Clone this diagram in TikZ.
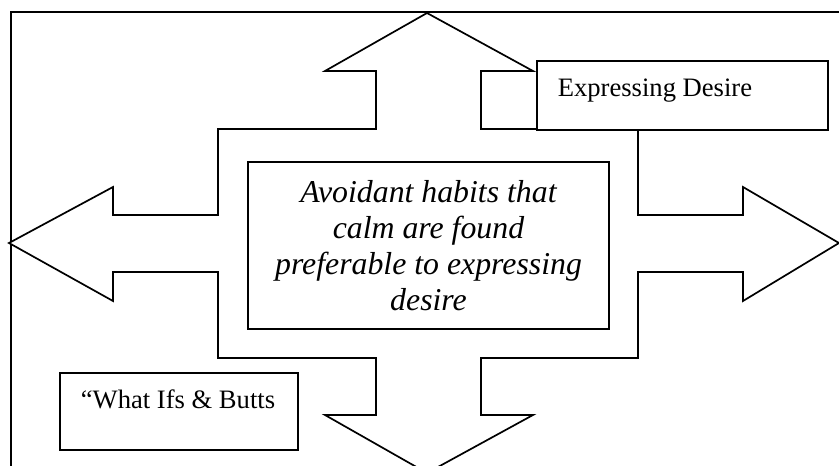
\documentclass[tikz,border=0pt]{standalone}
\usepackage{fontspec}
\setmainfont{Liberation Serif}
\begin{document}
\begin{tikzpicture}[x=1pt,y=-1pt, line width=1.7pt, line join=miter,
  tbox/.style={draw, fill=white, inner sep=0pt, line width=1.7pt},
  lbl/.style={font=\fontsize{26.6}{30}\selectfont, inner sep=0pt, anchor=base west},
  ctext/.style={font=\itshape\fontsize{31.8}{36}\selectfont, align=center}]
\useasboundingbox (0,0) rectangle (839,466);
\clip (0,0) rectangle (839,466);
\fill[white] (0,0) rectangle (839,466);
% page frame
\draw (11,12) rectangle (870,500);
% four-way arrow
\draw[fill=white] (427,13) -- (533,71) -- (481,71) -- (481,129) -- (638,129) -- (638,215)
  -- (743,215) -- (743,187) -- (839,243) -- (743,301) -- (743,272) -- (638,272)
  -- (638,358) -- (481,358) -- (481,415) -- (533,415) -- (427,473) -- (325,415)
  -- (376,415) -- (376,358) -- (218,358) -- (218,272) -- (113,272) -- (113,301)
  -- (9,243) -- (113,187) -- (113,215) -- (218,215) -- (218,129) -- (376,129)
  -- (376,71) -- (325,71) -- cycle;
% central box
\node[tbox, ctext, minimum width=361pt, minimum height=167pt] (center) at (428.5,245.5)
  {Avoidant habits that\\calm are found\\preferable to expressing\\desire};
% Expressing Desire box
\node[tbox, anchor=north west, minimum width=291pt, minimum height=69pt] (desire) at (536,60) {};
\node[lbl] (desiretext) at (557,96.7) {Expressing Desire};
% What Ifs box
\node[tbox, anchor=north west, minimum width=238pt, minimum height=77pt] (whatif) at (59,372) {};
\node[lbl] (whatiftext) at (80,408.3) {“What Ifs \& Butts};
\end{tikzpicture}
\end{document}
